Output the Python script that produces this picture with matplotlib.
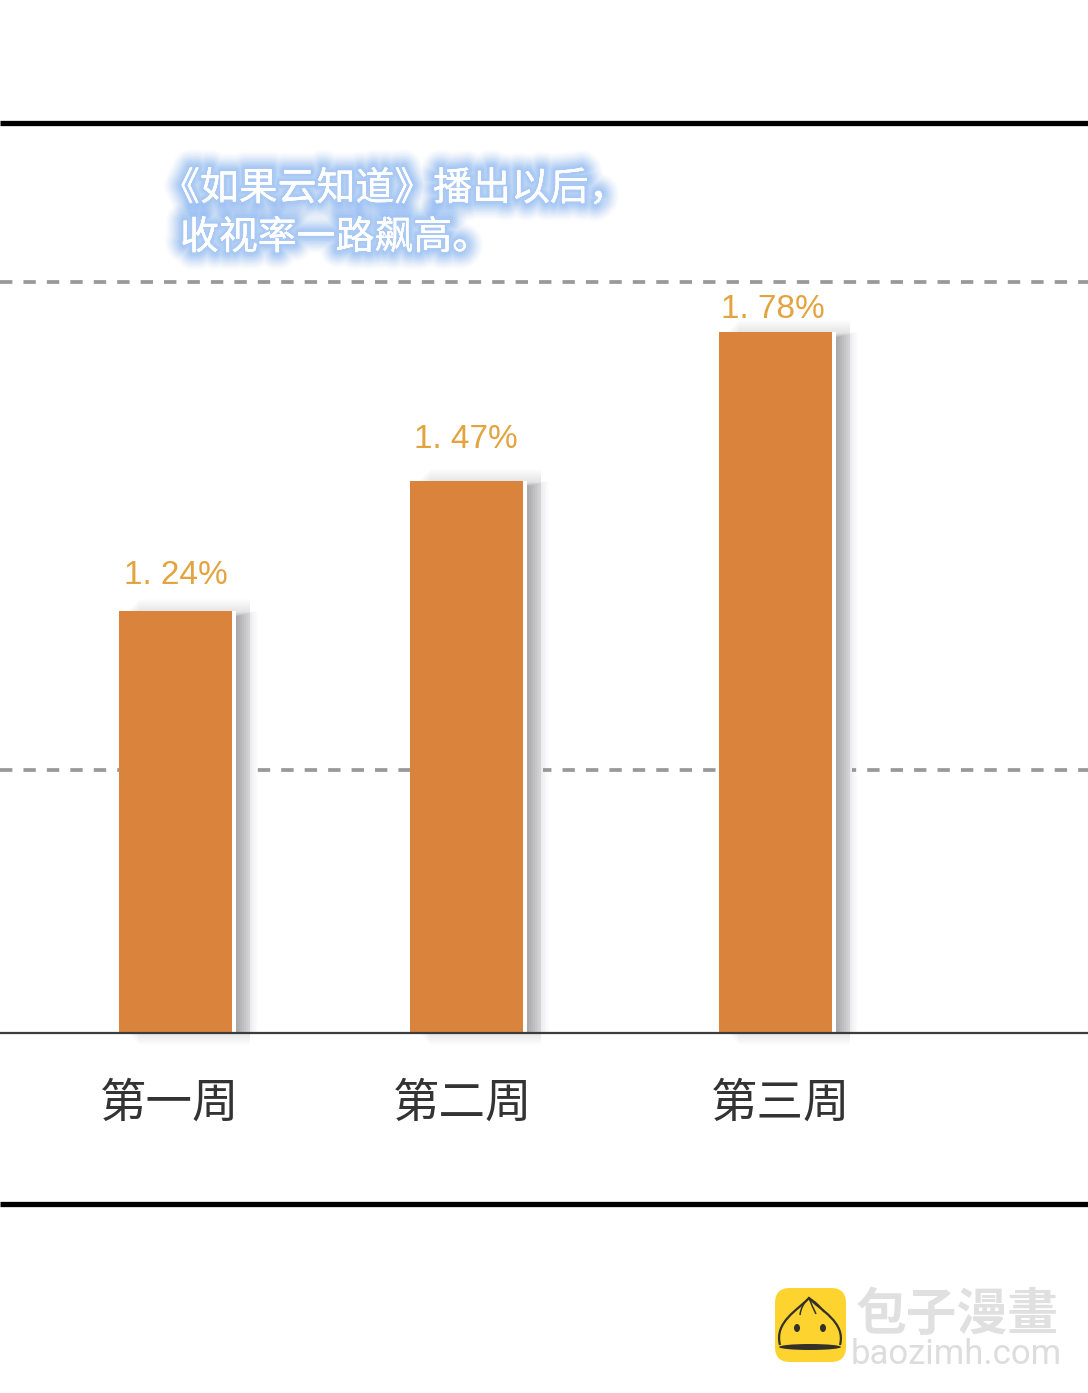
import matplotlib
matplotlib.use('Agg')
import matplotlib.pyplot as plt
import matplotlib.patheffects as pe
from matplotlib.patches import Rectangle, FancyBboxPatch, Ellipse, PathPatch
from matplotlib.path import Path

W, H = 1088, 1393
CJK = ['Noto Sans CJK SC', 'DejaVu Sans']

weeks = ['第一周', '第二周', '第三周']
rating_labels = ['1. 24%', '1. 47%', '1. 78%']
# bars in the picture are not drawn to scale with their labels, these are the drawn heights
bar_heights = [1.125, 1.472, 1.869]
grid_levels = [0.70, 2.00]
caption = ['《如果云知道》播出以后，', '收视率一路飙高。']

# layout, in pixels of the picture
bar_left = [119, 410, 719]
label_x = [170, 463, 781]
value_x = [176, 466, 773]
value_y = [575, 439, 310]
caption_x = [161, 180]
caption_y = [189, 238]
bar_w = 113
base_y, top_y, bottom_y = 1033, 123, 1204
px_per_unit = 375.0

fig = plt.figure(figsize=(W / 100, H / 100), dpi=100, facecolor='white')

ax = fig.add_axes([0, (H - base_y) / H, 1, (base_y - top_y) / H])
ax.set_xlim(0, W)
ax.set_ylim(0, (base_y - top_y) / px_per_unit)
ax.axis('off')

for g in grid_levels:
    ax.axhline(g + 1 / px_per_unit, color='#999999', lw=2.7, dashes=(3.3, 2.95), dash_capstyle='butt', zorder=1)

for left, h in zip(bar_left, bar_heights):
    # white halo hides the grid line next to the bar
    ax.add_patch(Rectangle((left, 0), bar_w + 20, h, fc='white', ec='none', zorder=2))
    # very faint spill above the bar and under the base line
    for r in range(1, 13):
        rise = r / px_per_unit
        ax.add_patch(Rectangle((left + 8 + r, -rise), bar_w + 10 - r, h + 2 * rise,
                               fc='#7a7c80', ec='none', alpha=0.012, zorder=3, clip_on=False))
    # soft grey shadow on the right side, wide layers first and fainter
    for w in range(22, 0, -2):
        ax.add_patch(Rectangle((left + 12, 0), bar_w - 8 + w, h - (22 - w) * 0.25 / px_per_unit,
                               fc='#7a7c80', ec='none', alpha=0.125 - w * 0.005, zorder=3))
    ax.add_patch(Rectangle((left, 0), bar_w + 4, h, fc='white', ec='none', zorder=4))
    ax.add_patch(Rectangle((left, 0), bar_w, h, fc='#da833d', ec='none', zorder=5))

# everything outside the plot, in picture pixels
over = fig.add_axes([0, 0, 1, 1])
over.set_xlim(0, W)
over.set_ylim(H, 0)
over.axis('off')
over.patch.set_alpha(0)

over.plot([0, W], [top_y, top_y], color='black', lw=3.8, solid_capstyle='butt')
over.plot([0, W], [bottom_y, bottom_y], color='black', lw=3.8, solid_capstyle='butt')
over.plot([0, W], [base_y, base_y], color='#3c3c3c', lw=1.6, solid_capstyle='butt', zorder=7)

for x, y, t in zip(value_x, value_y, rating_labels):
    over.text(x, y, t, ha='center', va='center', color='#e3a43f', fontsize=24, family='Liberation Sans')

for x, t in zip(label_x, weeks):
    over.text(x, 1103, t, ha='center', va='center', color='#333333', fontsize=33.5, family=CJK)

glow = [pe.withStroke(linewidth=w, foreground='#78acf4', alpha=0.02 + (26 - w) * 0.005) for w in range(26, 2, -2)]
glow.append(pe.Normal())
for x, y, t in zip(caption_x, caption_y, caption):
    over.text(x, y, t, ha='left', va='center', color='white', fontsize=28, family=CJK, path_effects=glow)

# watermark logo
over.add_patch(FancyBboxPatch((775, 1288), 71, 74, boxstyle='round,pad=0,rounding_size=15', fc='#fdd42f', ec='none', zorder=2))
bun = Path([(780, 1345), (774, 1322), (798, 1310), (809, 1298), (820, 1310), (846, 1322), (840, 1345)],
           [Path.MOVETO, Path.CURVE4, Path.CURVE4, Path.CURVE4, Path.CURVE4, Path.CURVE4, Path.CURVE4])
over.add_patch(PathPatch(bun, fc='none', ec='#33302a', lw=1.6, zorder=3))
for fold in ([(809, 1298), (801, 1305), (800, 1315)], [(809, 1298), (812, 1306), (816, 1314)],
             [(809, 1298), (818, 1303), (824, 1312)]):
    over.add_patch(PathPatch(Path(fold, [Path.MOVETO, Path.CURVE3, Path.CURVE3]), fc='none', ec='#33302a', lw=1.1, zorder=3))
over.add_patch(Ellipse((810, 1347), 62, 6, fc='#33302a', ec='none', zorder=3))
over.add_patch(Ellipse((797, 1328), 6, 8, fc='#33302a', ec='none', zorder=3))
over.add_patch(Ellipse((823, 1328), 6, 8, fc='#33302a', ec='none', zorder=3))
over.text(957, 1315, '包子漫畫', ha='center', va='center', color='#e0e0e0', fontsize=36.5,
          family=['Noto Sans CJK TC', 'DejaVu Sans'], fontweight='bold')
over.text(956, 1354, 'baozimh.com', ha='center', va='center', color='#dddddd', fontsize=25, family='Roboto')

fig.savefig('out.png', dpi=100)
